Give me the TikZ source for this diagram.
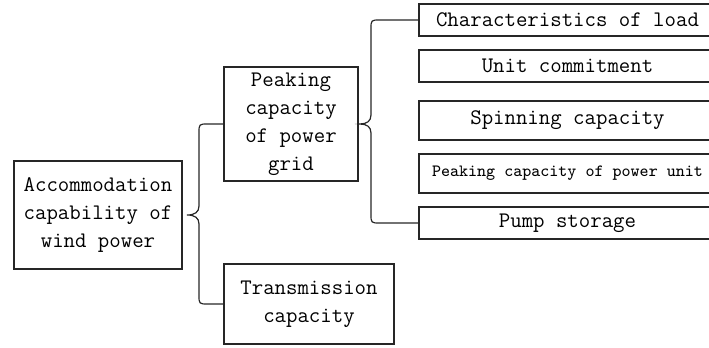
\documentclass[tikz,border=0pt]{standalone}
\usetikzlibrary{calc}
\begin{document}
\begin{tikzpicture}[x=0.5pt,y=-0.5pt,
  every node/.style={inner sep=0pt,outer sep=0pt},
  box/.style={draw=black!85,line width=0.6pt,align=center,font=\ttfamily\fontsize{11.1}{14}\selectfont},
  rbox/.style={box,anchor=west,minimum width=148.5pt},
  conn/.style={draw=black!85,line width=0.6pt}]
\useasboundingbox (0,0) rectangle (709,348);
\clip (0,0) rectangle (709,348);
% main boxes
\node[box,minimum width=84pt,minimum height=54pt] (A) at (98,215) {Accommodation\\capability of\\wind power};
\node[box,minimum width=67pt,minimum height=57pt] (B) at (291,124) {Peaking\\capacity\\of power\\grid};
\node[box,minimum width=85pt,minimum height=40pt] (C) at (309,304) {Transmission\\capacity};
% right boxes
\node[rbox,minimum height=16pt] (r1) at (419,20) {Characteristics of load};
\node[rbox,minimum height=16pt] (r2) at (419,66) {Unit commitment};
\node[rbox,minimum height=19.5pt] (r3) at (419,120.5) {Spinning capacity};
\node[rbox,minimum height=19.5pt,font=\ttfamily\fontsize{8.6}{10}\selectfont] (r4) at (419,173.5) {Peaking capacity of power unit};
\node[rbox,minimum height=16pt] (r5) at (419,223) {Pump storage};
% brace coordinates
\coordinate (tipL) at (187,215);
\coordinate (tipR) at (360,124);
% left brace
\path[conn] (B.west) -- (208,124) .. controls (199,124) and (199,124) .. (199,133)
  -- (199,206) .. controls (199,212) and (195,215) .. (tipL)
  .. controls (195,215) and (199,218) .. (199,224)
  -- (199,295) .. controls (199,304) and (199,304) .. (208,304) -- (C.west);
% right brace
\path[conn] (r1.west) -- (380,20) .. controls (371,20) and (371,20) .. (371,29)
  -- (371,115) .. controls (371,121) and (367,124) .. (tipR)
  .. controls (367,124) and (371,127) .. (371,133)
  -- (371,214) .. controls (371,223) and (371,223) .. (380,223) -- (r5.west);
\end{tikzpicture}
\end{document}
